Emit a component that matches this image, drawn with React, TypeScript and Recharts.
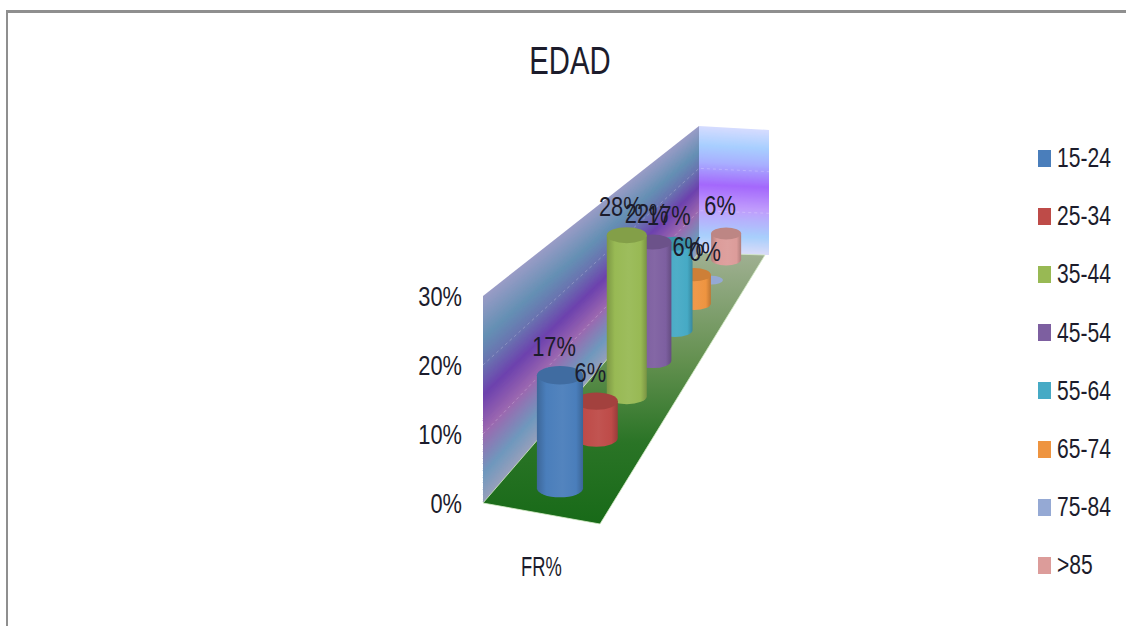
import React from 'react';
import { BarChart, Bar, XAxis, YAxis, ReferenceArea } from 'recharts';

const ageGroups = ['15-24', '25-34', '35-44', '45-54', '55-64', '65-74', '75-84', '>85'];
const shares = [17, 6, 28, 22, 17, 6, 0, 6];
const colors = ['#4a7ebb', '#be4b48', '#98b954', '#7d5fa0', '#46aac5', '#ee9440', '#95a9d4', '#dc9c9a'];
const percentTicks = [0, 10, 20, 30];
const category = 'FR%';

const row: Record<string, string | number> = { group: category };
ageGroups.forEach((g, i) => { row[g] = shares[i]; });
const chartData = [row];

const FONT = '"Liberation Sans", sans-serif';
const INK = '#1c1c2c';
const NARROW = 0.78;

// box the cylinders stand in
const BACK_LEFT_X = 699;
const BACK_LEFT_TOP = 126;
const BACK_LEFT_FLOOR = 253;
const BACK_RIGHT_TOP: [number, number] = [769, 130];
const BACK_RIGHT_FLOOR: [number, number] = [765, 255];
const BACK_SCALE = 0.61;
const SPACING_SCALE = 0.55;
const FRONT_CENTER = [539, 517];
const BACK_CENTER = [733, 250];
const CYLINDER_RADIUS = 24;
const ELLIPSE_RATIO = 0.4;

// perspective position of a series slot on the floor
function project(index: number) {
  const d = (index + 0.5) / ageGroups.length;
  const den = 1 - d + d / SPACING_SCALE;
  const f = d / SPACING_SCALE / den;
  return {
    scale: 1 / (1 - d + d / BACK_SCALE),
    x: FRONT_CENTER[0] + (BACK_CENTER[0] - FRONT_CENTER[0]) * f,
    y: FRONT_CENTER[1] + (BACK_CENTER[1] - FRONT_CENTER[1]) * f,
  };
}

function mix(a: string, b: string, t: number) {
  const p = (h: string, n: number) => parseInt(h.slice(n, n + 2), 16);
  const c = [1, 3, 5].map((n) => Math.round(p(a, n) + (p(b, n) - p(a, n)) * t));
  return `rgb(${c[0]},${c[1]},${c[2]})`;
}

function rampColor(stops: [number, string][], t: number) {
  for (let i = 1; i < stops.length; i++) {
    if (t <= stops[i][0]) {
      const [t0, c0] = stops[i - 1];
      const [t1, c1] = stops[i];
      return mix(c0, c1, (t - t0) / (t1 - t0));
    }
  }
  return stops[stops.length - 1][1];
}

const sideWallRamp: [number, string][] = [
  [0, '#9a9cc6'],
  [0.2, '#6590b4'],
  [0.33, '#6a74b0'],
  [0.48, '#6d42ae'],
  [0.66, '#9c68b0'],
  [0.86, '#6f98bd'],
  [1, '#98a0bc'],
];
const backWallRamp: [number, string][] = [
  [0, '#d6dcff'],
  [0.15, '#a8cfff'],
  [0.28, '#a8b0ff'],
  [0.46, '#a468fc'],
  [0.64, '#c09cfc'],
  [0.86, '#a8cffc'],
  [1, '#dcdcf8'],
];

const STRIPS = 120;

function WallStrips({ left, right, ramp }: { left: number[]; right: number[]; ramp: [number, string][] }) {
  // left/right: x, top y, bottom y of each wall edge; each strip runs down to the floor so no seams show
  const at = (e: number[], t: number) => e[1] + (e[2] - e[1]) * t;
  return (
    <g>
      {Array.from({ length: STRIPS }, (_, i) => {
        const t0 = i / STRIPS;
        const fill = rampColor(ramp, (i + 0.5) / STRIPS);
        const pts = `${left[0]},${at(left, t0)} ${right[0]},${at(right, t0)} ${right[0]},${right[2]} ${left[0]},${left[2]}`;
        return <polygon key={i} points={pts} fill={fill} />;
      })}
    </g>
  );
}

function Room(props: any) {
  const { x, y, width, height } = props;
  const floorY = y + height;
  const sideFront = [x, y, floorY];
  const sideBack = [BACK_LEFT_X, BACK_LEFT_TOP, BACK_LEFT_FLOOR];
  const backRight = [BACK_RIGHT_TOP[0], BACK_RIGHT_TOP[1], BACK_RIGHT_FLOOR[1]];
  const floorPts = `${x},${floorY} ${x + width},${floorY + 21} ${BACK_RIGHT_FLOOR[0]},${BACK_RIGHT_FLOOR[1]} ${BACK_LEFT_X},${BACK_LEFT_FLOOR}`;
  return (
    <g>
      <defs>
        <linearGradient id="floorFill" gradientUnits="userSpaceOnUse" x1={0} y1={floorY + 21} x2={0} y2={BACK_LEFT_FLOOR}>
          <stop offset="0" stopColor="#186a18" />
          <stop offset="0.3" stopColor="#2a7426" />
          <stop offset="0.6" stopColor="#63904f" />
          <stop offset="1" stopColor="#a0b092" />
        </linearGradient>
      </defs>
      <WallStrips left={sideFront} right={sideBack} ramp={sideWallRamp} />
      <WallStrips left={sideBack} right={backRight} ramp={backWallRamp} />
      {percentTicks.slice(1, 3).map((v) => {
        const t = v / percentTicks[3];
        const y0 = floorY - height * t;
        const y1 = BACK_LEFT_FLOOR - (BACK_LEFT_FLOOR - BACK_LEFT_TOP) * t;
        const y2 = BACK_RIGHT_FLOOR[1] - (BACK_RIGHT_FLOOR[1] - BACK_RIGHT_TOP[1]) * t;
        return (
          <polyline
            key={v}
            points={`${x},${y0} ${BACK_LEFT_X},${y1} ${BACK_RIGHT_TOP[0]},${y2}`}
            fill="none"
            stroke="#ffffff"
            strokeOpacity={0.22}
            strokeDasharray="3 3"
          />
        );
      })}
      <polygon points={floorPts} fill="url(#floorFill)" stroke="#d6ecc8" strokeWidth={0.8} />
    </g>
  );
}

function cylinderShape(index: number) {
  return function Cylinder(props: any) {
    const { height } = props;
    const { scale, x, y } = project(index);
    const rx = CYLINDER_RADIUS * scale;
    const ry = rx * ELLIPSE_RATIO;
    const color = colors[index];
    const h = (height || 0) * scale;
    const gid = `body${index}`;
    if (h < 0.5) {
      return <ellipse cx={x} cy={y} rx={rx * 0.75} ry={ry * 0.7} fill={color} />;
    }
    const top = y - h;
    const body = `M${x - rx},${top} L${x - rx},${y} A${rx},${ry} 0 0 0 ${x + rx},${y} L${x + rx},${top} Z`;
    return (
      <g>
        <defs>
          <linearGradient id={gid} x1="0" y1="0" x2="1" y2="0">
            <stop offset="0" stopColor={mix(color, '#000000', 0.18)} />
            <stop offset="0.2" stopColor={color} />
            <stop offset="0.55" stopColor={mix(color, '#ffffff', 0.05)} />
            <stop offset="0.85" stopColor={color} />
            <stop offset="1" stopColor={mix(color, '#000000', 0.2)} />
          </linearGradient>
        </defs>
        <path d={body} fill={`url(#${gid})`} />
        <ellipse cx={x} cy={top} rx={rx} ry={ry} fill={mix(color, '#000000', 0.14)} />
      </g>
    );
  };
}

function NarrowText({ x, y, anchor, size = 28, squeeze = NARROW, children }: any) {
  return (
    <text
      transform={`translate(${x},${y}) scale(${squeeze},1)`}
      textAnchor={anchor}
      fontFamily={FONT}
      fontSize={size}
      fill={INK}
    >
      {children}
    </text>
  );
}

function labelShape(index: number) {
  return function PercentLabel(props: any) {
    const { height } = props;
    const { scale, x, y } = project(index);
    const top = y - (height || 0) * scale;
    return (
      <NarrowText x={x - 6} y={top - 19} anchor="middle">
        {shares[index]}%
      </NarrowText>
    );
  };
}

const PercentTick = ({ x, y, payload }: any) => (
  <NarrowText x={x} y={y + 10} anchor="end">{`${payload.value}%`}</NarrowText>
);

const CategoryTick = ({ x, y, payload }: any) => (
  <NarrowText x={x} y={y + 65} anchor="middle" size={27} squeeze={0.68}>{payload.value}</NarrowText>
);

// back to front so nearer cylinders overlap farther ones
const drawOrder = ageGroups.map((_, i) => ageGroups.length - 1 - i);

export default function App() {
  return (
    <div style={{ position: 'absolute', left: 0, top: 0, width: 1126, height: 626, background: '#fff', overflow: 'hidden' }}>
      <div style={{ position: 'absolute', left: 6, top: 10, right: 0, bottom: 0, borderTop: '3px solid #8f8f8f', borderLeft: '2px solid #8f8f8f' }} />
      <div style={{ position: 'absolute', left: 470, width: 200, top: 41, textAlign: 'center', fontFamily: FONT, fontSize: 38, lineHeight: '40px', color: INK, transform: 'scaleX(0.77)' }}>
        EDAD
      </div>
      <div style={{ position: 'absolute', left: 0, top: 0 }}>
        <BarChart
          width={1126}
          height={626}
          data={chartData}
          margin={{ top: 296, right: 526, bottom: 83, left: 423 }}
          barCategoryGap={0}
          barGap={0}
        >
          <XAxis dataKey="group" height={40} axisLine={false} tickLine={false} tick={CategoryTick} />
          <YAxis
            width={60}
            domain={[0, percentTicks[3]]}
            ticks={percentTicks}
            axisLine={false}
            tickLine={false}
            tickMargin={15}
            tick={PercentTick}
          />
          <ReferenceArea y1={0} y2={percentTicks[3]} shape={Room} />
          {drawOrder.map((i) => (
            <Bar key={ageGroups[i]} dataKey={ageGroups[i]} shape={cylinderShape(i)} isAnimationActive={false} />
          ))}
          {drawOrder.map((i) => (
            <Bar key={`label-${ageGroups[i]}`} dataKey={ageGroups[i]} shape={labelShape(i)} isAnimationActive={false} />
          ))}
        </BarChart>
      </div>
      {ageGroups.map((g, i) => (
        <div key={g} style={{ position: 'absolute', left: 1038, top: 142 + i * 58.2, height: 32, display: 'flex', alignItems: 'center', whiteSpace: 'nowrap' }}>
          <span style={{ width: 13, height: 17, background: colors[i], display: 'inline-block', marginRight: 6 }} />
          <span style={{ fontFamily: FONT, fontSize: 27, color: INK, lineHeight: '32px', display: 'inline-block', transform: 'scaleX(0.78)', transformOrigin: 'left center' }}>{g}</span>
        </div>
      ))}
    </div>
  );
}
